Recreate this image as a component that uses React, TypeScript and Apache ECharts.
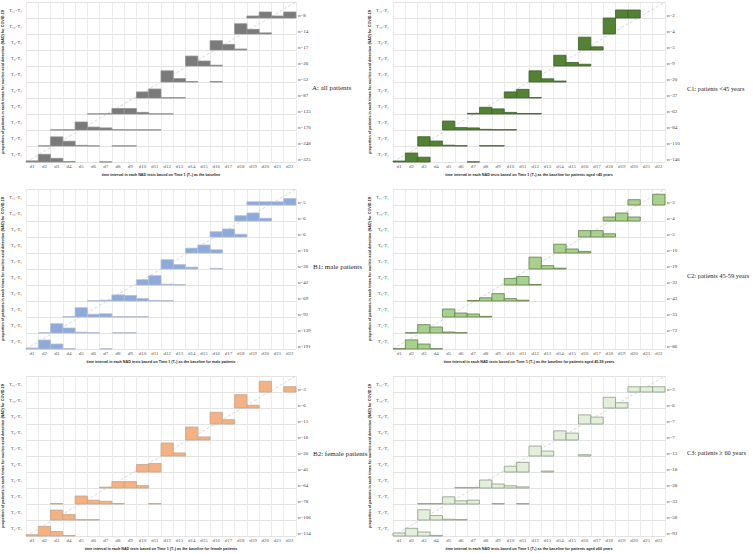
import React, { useEffect, useRef } from 'react';
import * as echarts from 'echarts';

// ---------- categories / tick labels ----------
const dayLabels = ['d1','d2','d3','d4','d5','d6','d7','d8','d9','d10','d11','d12','d13','d14','d15','d16','d17','d18','d19','d20','d21','d22'];
const intervalLabels = ['T₂-T₁','T₃-T₁','T₄-T₁','T₅-T₁','T₆-T₁','T₇-T₁','T₈-T₁','T₉-T₁','T₁₀-T₁','T₁₁-T₁'];

// ---------- series values: each row = one interval (T2-T1 ... T11-T1), [day, proportion] ----------
const allPatients: [string, number][][] = [
  [['d1',.07],['d2',.48],['d3',.23],['d4',.03],['d7',.01]],
  [['d2',.01],['d3',.57],['d4',.30],['d5',.04],['d6',.01],['d8',.01],['d9',.01]],
  [['d3',.01],['d4',.01],['d5',.50],['d6',.18],['d7',.13],['d8',.02],['d9',.01],['d10',.01],['d11',.01]],
  [['d6',.01],['d7',.02],['d8',.34],['d9',.34],['d10',.10],['d11',.01],['d12',.01]],
  [['d10',.38],['d11',.56],['d12',.02],['d13',.02]],
  [['d12',.70],['d13',.21],['d14',.03],['d16',.03]],
  [['d14',.62],['d15',.31],['d16',.05]],
  [['d16',.58],['d17',.35],['d18',.06]],
  [['d18',.64],['d19',.29],['d20',.07]],
  [['d19',.125],['d20',.375],['d21',.125],['d22',.375]],
];
const allN = [325, 248, 170, 133, 87, 52, 26, 17, 14, 8];

const malePatients: [string, number][][] = [
  [['d1',.06],['d2',.56],['d3',.31],['d4',.02],['d7',.01]],
  [['d2',.01],['d3',.58],['d4',.31],['d5',.05],['d6',.01],['d8',.01],['d9',.01]],
  [['d4',.02],['d5',.58],['d6',.17],['d7',.20],['d8',.02],['d9',.02],['d10',.02]],
  [['d6',.01],['d7',.05],['d8',.38],['d9',.34],['d10',.15],['d11',.03],['d12',.02]],
  [['d10',.33],['d11',.58],['d12',.05],['d13',.02]],
  [['d12',.58],['d13',.27],['d14',.115],['d16',.04]],
  [['d14',.30],['d15',.50],['d16',.20]],
  [['d16',.33],['d17',.50],['d18',.17]],
  [['d18',.33],['d19',.50],['d20',.17]],
  [['d19',.20],['d20',.20],['d21',.20],['d22',.40]],
];
const maleN = [191, 139, 92, 69, 42, 26, 10, 6, 6, 5];

const femalePatients: [string, number][][] = [
  [['d1',.08],['d2',.60],['d3',.28],['d4',.03]],
  [['d3',.62],['d4',.34],['d5',.02],['d6',.02]],
  [['d3',.03],['d5',.50],['d6',.24],['d7',.17],['d8',.03],['d11',.03]],
  [['d7',.05],['d8',.40],['d9',.40],['d10',.15]],
  [['d10',.47],['d11',.53]],
  [['d12',.81],['d13',.19]],
  [['d14',.81],['d15',.19]],
  [['d16',.73],['d17',.27]],
  [['d18',.83],['d19',.17]],
  [['d20',.67],['d22',.33]],
];
const femaleN = [134, 106, 78, 64, 45, 26, 16, 11, 6, 3];

const under45: [string, number][][] = [
  [['d1',.06],['d2',.56],['d3',.30],['d7',.01]],
  [['d3',.58],['d4',.31],['d5',.05],['d6',.02],['d8',.02],['d9',.02]],
  [['d5',.56],['d6',.15],['d7',.13],['d8',.04],['d9',.02],['d10',.02]],
  [['d7',.04],['d8',.42],['d9',.32],['d10',.10],['d11',.03],['d12',.03]],
  [['d10',.38],['d11',.54],['d12',.03]],
  [['d12',.70],['d13',.20],['d14',.06]],
  [['d14',.67],['d15',.22],['d16',.11]],
  [['d16',.80],['d17',.20]],
  [['d18',1.0]],
  [['d19',.50],['d20',.50]],
];
const under45N = [146, 110, 84, 62, 37, 20, 9, 5, 4, 2];

const age45to59: [string, number][][] = [
  [['d1',.02],['d2',.57],['d3',.31],['d4',.02]],
  [['d2',.02],['d3',.52],['d4',.375],['d5',.06],['d6',.02]],
  [['d5',.50],['d6',.25],['d7',.19],['d8',.04]],
  [['d7',.03],['d8',.20],['d9',.46],['d10',.15],['d11',.05]],
  [['d10',.41],['d11',.53],['d12',.03]],
  [['d12',.74],['d13',.21],['d14',.05]],
  [['d14',.55],['d15',.25],['d16',.10]],
  [['d16',.40],['d17',.40],['d18',.20]],
  [['d18',.25],['d19',.50],['d20',.25]],
  [['d20',.33],['d22',.67]],
];
const age45to59N = [86, 72, 53, 43, 32, 19, 10, 5, 4, 3];

const over60: [string, number][][] = [
  [['d1',.19],['d2',.48],['d3',.25],['d4',.04]],
  [['d3',.64],['d4',.28],['d5',.05],['d6',.03]],
  [['d3',.03],['d4',.03],['d5',.45],['d6',.20],['d7',.24],['d9',.03],['d11',.03]],
  [['d6',.036],['d7',.036],['d8',.50],['d9',.25],['d10',.14],['d11',.07]],
  [['d10',.36],['d11',.60],['d13',.06]],
  [['d12',.62],['d13',.31],['d16',.08]],
  [['d14',.57],['d15',.43]],
  [['d16',.57],['d17',.43]],
  [['d18',.67],['d19',.33]],
  [['d20',.33],['d21',.33],['d22',.33]],
];
const over60N = [93, 58, 33, 28, 18, 13, 7, 7, 6, 3];

// reference diagonal (from first day / first row to last day / last row)
const diagonal = [[0, 0], [22, 10]];

const yTitle = 'proportion of patients in each times for nucleic acid detection (NAD) for COVID-19';
const xTitleBase = 'time interval in each NAD tests based on Time 1 (T₁) as the baseline';

const panels = [
  { rows: allPatients, ns: allN, xTitle: xTitleBase, label: 'A: all patients', fill: '#7a7a7a', stroke: '#8f8f8f', col: 0, row: 0, lx: 312, ly: 88 },
  { rows: malePatients, ns: maleN, xTitle: xTitleBase + ' for male patients', label: 'B1: male patients', fill: '#8eaadb', stroke: '#aebbd3', col: 0, row: 1, lx: 313, ly: 267 },
  { rows: femalePatients, ns: femaleN, xTitle: xTitleBase + ' for female patients', label: 'B2: female patients', fill: '#f4b183', stroke: '#c4a48c', col: 0, row: 2, lx: 313, ly: 454 },
  { rows: under45, ns: under45N, xTitle: xTitleBase + ' for patients aged <45 years', label: 'C1: patients <45 years', fill: '#548235', stroke: '#3e6127', col: 1, row: 0, lx: 687, ly: 89 },
  { rows: age45to59, ns: age45to59N, xTitle: xTitleBase + ' for patients aged 45-59 years', label: 'C2: patients 45-59 years', fill: '#a9d18e', stroke: '#5f7f4a', col: 1, row: 1, lx: 687, ly: 276 },
  { rows: over60, ns: over60N, xTitle: xTitleBase + ' for patients aged ≥60 years', label: 'C3: patients ≥ 60 years', fill: '#e2efda', stroke: '#8e9c86', col: 1, row: 2, lx: 687, ly: 453 },
];

const SERIF = 'Liberation Serif';
const SANS = 'Liberation Sans';

function buildOption() {
  const colLeft = [26, 393];
  const colWidth = [270, 272];
  const labelSize = [7, 6.4];
  const rowTop = [2, 189, 376];
  const grid: any[] = [];
  const xAxis: any[] = [];
  const yAxis: any[] = [];
  const series: any[] = [];
  const graphic: any[] = [];

  panels.forEach((p, i) => {
    grid.push({ left: colLeft[p.col], top: rowTop[p.row], width: colWidth[p.col], height: 160 });
    // category x axis (labels + vertical grid)
    xAxis.push({
      type: 'category', gridIndex: i, data: dayLabels, boundaryGap: true,
      axisLine: { show: false }, axisTick: { show: false },
      splitLine: { show: true, interval: 0, lineStyle: { color: '#e6e6e6', width: 0.8 } },
      axisLabel: { interval: 0, fontSize: 5, margin: 2, color: '#595959', fontFamily: SERIF },
      name: p.xTitle, nameLocation: 'middle', nameGap: 10.5,
      nameTextStyle: { fontSize: 3.7, fontWeight: 'bold', color: '#262626', fontFamily: SANS },
    });
    // hidden value x axis for the diagonal reference
    xAxis.push({ type: 'value', gridIndex: i, min: 0, max: 22, show: false });
    // value y axis (rows), right side labels n=
    yAxis.push({
      type: 'value', gridIndex: i, min: 0, max: 10, interval: 1, position: 'right',
      axisLine: { show: false }, axisTick: { show: false },
      splitLine: { show: true, lineStyle: { color: '#dcdcdc', width: 0.8 } },
      axisLabel: {
        fontSize: 5, margin: 2, color: '#404040', fontFamily: SERIF, verticalAlign: 'bottom',
        formatter: (v: number) => { const k = Math.round(v); return k < 10 ? 'n=' + p.ns[k] : ''; },
      },
    });
    // category y axis for interval labels
    yAxis.push({
      type: 'category', gridIndex: i, data: intervalLabels, position: 'left', boundaryGap: true,
      axisLine: { show: false }, axisTick: { show: false }, splitLine: { show: false },
      axisLabel: { interval: 0, fontSize: 5, margin: 4, color: '#595959', fontFamily: SERIF },
      name: yTitle, nameLocation: 'middle', nameRotate: 90, nameGap: 16,
      nameTextStyle: { fontSize: 3.7, fontWeight: 'bold', color: '#262626', fontFamily: SANS },
    });

    series.push({
      type: 'line', xAxisIndex: 2 * i + 1, yAxisIndex: 2 * i, data: diagonal,
      symbol: 'none', silent: true, z: 1,
      lineStyle: { color: '#d4d4d4', width: 0.9, type: [3, 2] },
    });

    const data: number[][] = [];
    p.rows.forEach((row, r) => {
      row.forEach(([day, v]) => data.push([dayLabels.indexOf(day), r, v]));
    });
    series.push({
      type: 'custom', xAxisIndex: 2 * i, yAxisIndex: 2 * i, z: 3, silent: true,
      encode: { x: 0, y: 1 },
      data,
      renderItem: (_params: any, api: any) => {
        const c = api.value(0);
        const r = api.value(1);
        const h = api.value(2);
        const base = api.coord([c, r]);
        const top = api.coord([c, r + h]);
        const w = api.size([1, 0])[0];
        return {
          type: 'rect',
          shape: { x: base[0] - w / 2, y: top[1], width: w, height: base[1] - top[1] },
          style: { fill: p.fill, stroke: p.stroke, lineWidth: 0.8 },
        };
      },
    });

    graphic.push({
      type: 'text', left: p.lx, top: p.ly - 4,
      style: { text: p.label, fontSize: labelSize[p.col], fontFamily: SERIF, fill: '#262626' },
    });
  });

  return { animation: false, backgroundColor: '#ffffff', grid, xAxis, yAxis, series, graphic };
}

export default function App() {
  const ref = useRef<HTMLDivElement>(null);
  useEffect(() => {
    if (!ref.current) return;
    const chart = echarts.init(ref.current, undefined, { renderer: 'svg' });
    chart.setOption(buildOption() as any);
    return () => chart.dispose();
  }, []);
  return <div ref={ref} style={{ position: 'fixed', left: 0, top: 0, width: 753, height: 553 }} />;
}
